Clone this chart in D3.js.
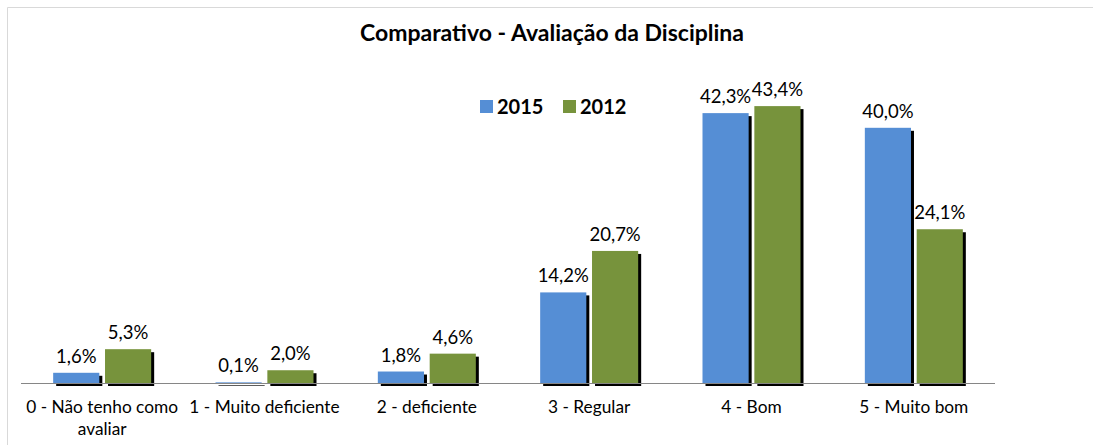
<!DOCTYPE html>
<html lang="pt">
  <head>
    <meta charset="utf-8">
    <title>Comparativo - Avaliação da Disciplina</title>
    <script src="https://cdn.jsdelivr.net/npm/d3@7"></script>
    <style>
      body { margin: 0; background: #fff; }
      text { font-family: Lato, "Open Sans", sans-serif; fill: #000; }
      .title { font-size: 23px; font-weight: bold; }
      .legend text { font-size: 20px; font-weight: bold; }
      .value { font-size: 18.5px; }
      .cat text { font-size: 17.3px; }
    </style>
  </head>
  <body>
    <script>
      // data
      var categories = ["0 - Não tenho como avaliar", "1 - Muito deficiente", "2 - deficiente", "3 - Regular", "4 - Bom", "5 - Muito bom"];
      var catLines = [["0 - Não tenho como", "avaliar"], ["1 - Muito deficiente"], ["2 - deficiente"], ["3 - Regular"], ["4 - Bom"], ["5 - Muito bom"]];
      var seriesNames = ["2015", "2012"];
      var values2015 = [1.6, 0.1, 1.8, 14.2, 42.3, 40.0];
      var values2012 = [5.3, 2.0, 4.6, 20.7, 43.4, 24.1];
      var colors = ["#558ED5", "#77933C"];

      var w = 1093, h = 445;
      var left = 21, right = 995, base = 383;

      var svg = d3.select("body").append("svg")
                  .attr("width", w)
                  .attr("height", h);

      // chart frame
      svg.append("path")
         .attr("d", "M7.5," + h + "V7.5H" + w)
         .attr("fill", "none")
         .attr("stroke", "#d9d9d9");

      var x0 = d3.scaleBand()
                 .domain(categories)
                 .range([left, right]);
      var x1 = d3.scaleBand()
                 .domain(seriesNames)
                 .range([0, 98])
                 .paddingInner(0.11);
      var y = d3.scaleLinear()
                .domain([0, 50])
                .range([base, base - 319]);

      svg.append("text")
         .attr("class", "title")
         .attr("x", 552)
         .attr("y", 41)
         .attr("text-anchor", "middle")
         .text("Comparativo - Avaliação da Disciplina");

      // legend
      var legend = svg.append("g").attr("class", "legend")
                      .selectAll("g")
                      .data(seriesNames)
                      .enter()
                      .append("g")
                      .attr("transform", function (d, i) { return "translate(" + (480 + i * 83) + ",0)"; });
      legend.append("rect")
            .attr("x", 0).attr("y", 100)
            .attr("width", 13).attr("height", 13)
            .attr("fill", function (d, i) { return colors[i]; });
      legend.append("text")
            .attr("x", 17).attr("y", 114)
            .text(function (d) { return d; });

      var rows = categories.map(function (c, i) {
        return [values2015[i], values2012[i]].map(function (v, j) {
          return { cat: c, s: seriesNames[j], v: v, j: j };
        });
      });

      var groups = svg.selectAll(".grp")
                      .data(rows)
                      .enter()
                      .append("g")
                      .attr("class", "grp")
                      .attr("transform", function (d, i) {
                        return "translate(" + (x0(categories[i]) + x0.bandwidth() / 2 - 49) + ",0)";
                      });

      // shadows
      groups.selectAll(".shadow")
            .data(function (d) { return d; })
            .enter()
            .append("rect")
            .attr("class", "shadow")
            .attr("x", function (d) { return x1(d.s) + 3; })
            .attr("y", function (d) { return y(d.v) + 3; })
            .attr("width", x1.bandwidth())
            .attr("height", function (d) { return base - y(d.v); })
            .attr("fill", "#000");

      groups.selectAll(".bar")
            .data(function (d) { return d; })
            .enter()
            .append("rect")
            .attr("class", "bar")
            .attr("x", function (d) { return x1(d.s); })
            .attr("y", function (d) { return y(d.v); })
            .attr("width", x1.bandwidth())
            .attr("height", function (d) { return Math.max(1, base - y(d.v)); })
            .attr("fill", function (d) { return colors[d.j]; });

      groups.selectAll(".value")
            .data(function (d) { return d; })
            .enter()
            .append("text")
            .attr("class", "value")
            .attr("x", function (d) { return x1(d.s) + x1.bandwidth() / 2; })
            .attr("y", function (d) { return y(d.v) - 10; })
            .attr("text-anchor", "middle")
            .text(function (d) { return d.v.toFixed(1).replace(".", ",") + "%"; });

      // baseline
      svg.append("line")
         .attr("x1", left).attr("x2", right)
         .attr("y1", base + 0.5).attr("y2", base + 0.5)
         .attr("stroke", "#868686")
         .attr("stroke-width", 1.2);

      // category labels
      var cat = svg.append("g").attr("class", "cat")
                   .selectAll("text")
                   .data(categories)
                   .enter()
                   .append("text")
                   .attr("text-anchor", "middle")
                   .attr("x", function (d) { return x0(d) + x0.bandwidth() / 2; })
                   .attr("y", 413);
      cat.selectAll("tspan")
         .data(function (d, i) { return catLines[i]; })
         .enter()
         .append("tspan")
         .attr("x", function () { return d3.select(this.parentNode).attr("x"); })
         .attr("dy", function (d, i) { return i === 0 ? 0 : 22; })
         .text(function (d) { return d; });
    </script>
  </body>
</html>
